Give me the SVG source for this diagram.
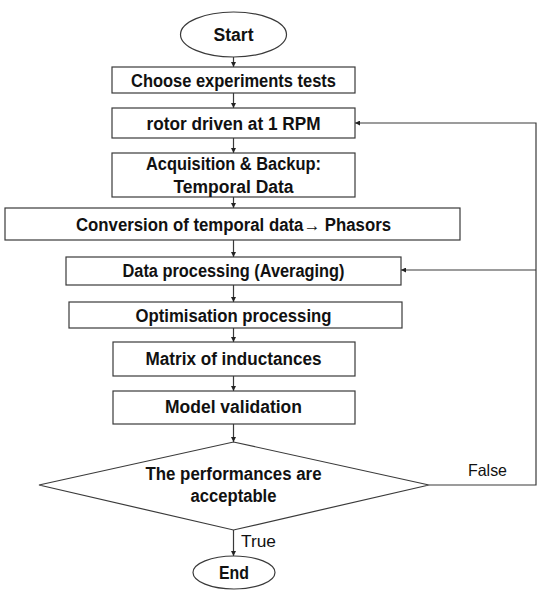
<svg xmlns="http://www.w3.org/2000/svg" width="550" height="596" viewBox="0 0 550 596">
<style>
.n{fill:#fff;stroke:#3a3a3a;stroke-width:1.2}
.t{font-family:"Liberation Sans",Arial,sans-serif;font-weight:bold;font-size:17.5px;fill:#111;text-anchor:middle}
.l{font-family:"Liberation Sans",Arial,sans-serif;font-size:16.5px;fill:#111}
.c{fill:none;stroke:#3a3a3a;stroke-width:1.2}
</style>
<defs>
<marker id="a" viewBox="0 0 10 10" refX="10" refY="5" markerWidth="5" markerHeight="5" orient="auto" markerUnits="userSpaceOnUse"><path d="M0,0 L10,5 L0,10 z" fill="#222"/></marker>
</defs>
<rect width="550" height="596" fill="#fff"/>
<g id="connectors">
<line class="c" x1="233.5" y1="57" x2="233.5" y2="67" marker-end="url(#a)"/>
<line class="c" x1="233.5" y1="93" x2="233.5" y2="108" marker-end="url(#a)"/>
<line class="c" x1="233.5" y1="138" x2="233.5" y2="153" marker-end="url(#a)"/>
<line class="c" x1="233.5" y1="197" x2="233.5" y2="208" marker-end="url(#a)"/>
<line class="c" x1="233.5" y1="240" x2="233.5" y2="257" marker-end="url(#a)"/>
<line class="c" x1="233.5" y1="285" x2="233.5" y2="302" marker-end="url(#a)"/>
<line class="c" x1="233.5" y1="328" x2="233.5" y2="342" marker-end="url(#a)"/>
<line class="c" x1="233.5" y1="376" x2="233.5" y2="391" marker-end="url(#a)"/>
<line class="c" x1="233.5" y1="424" x2="233.5" y2="442" marker-end="url(#a)"/>
<line class="c" x1="233.5" y1="530" x2="233.5" y2="556" marker-end="url(#a)"/>
<polyline class="c" points="429,485 536,485 536,123 355,123" marker-end="url(#a)"/>
<line class="c" x1="536" y1="270" x2="401" y2="270" marker-end="url(#a)"/>
<text class="l" x="468" y="476" textLength="39" lengthAdjust="spacingAndGlyphs">False</text>
<text class="l" x="241" y="547" textLength="35" lengthAdjust="spacingAndGlyphs">True</text>
</g>
<g id="start"><ellipse class="n" cx="233.5" cy="34.5" rx="53" ry="22.5"/><text class="t" x="233.5" y="41" textLength="40" lengthAdjust="spacingAndGlyphs">Start</text></g>
<g id="choose"><rect class="n" x="112" y="67" width="243" height="26"/><text class="t" x="233.5" y="87" textLength="205" lengthAdjust="spacingAndGlyphs">Choose experiments tests</text></g>
<g id="rotor"><rect class="n" x="112" y="108" width="243" height="30"/><text class="t" x="233.5" y="129.5" textLength="174" lengthAdjust="spacingAndGlyphs">rotor driven at 1 RPM</text></g>
<g id="acquisition"><rect class="n" x="112" y="153" width="243" height="44"/><text class="t" x="233.5" y="170" textLength="175" lengthAdjust="spacingAndGlyphs">Acquisition &amp; Backup:</text><text class="t" x="233.5" y="192.5" textLength="120" lengthAdjust="spacingAndGlyphs">Temporal Data</text></g>
<g id="conversion"><rect class="n" x="5" y="208" width="455" height="32"/><text class="t" x="233.5" y="231" textLength="315" lengthAdjust="spacingAndGlyphs">Conversion of temporal data→ Phasors</text></g>
<g id="dataprocessing"><rect class="n" x="66" y="257" width="335" height="28"/><text class="t" x="233.5" y="277" textLength="222" lengthAdjust="spacingAndGlyphs">Data processing (Averaging)</text></g>
<g id="optimisation"><rect class="n" x="69" y="302" width="333" height="26"/><text class="t" x="233.5" y="321.5" textLength="196" lengthAdjust="spacingAndGlyphs">Optimisation processing</text></g>
<g id="matrix"><rect class="n" x="113" y="342" width="242" height="34"/><text class="t" x="233.5" y="364.5" textLength="176" lengthAdjust="spacingAndGlyphs">Matrix of inductances</text></g>
<g id="validation"><rect class="n" x="113" y="391" width="242" height="33"/><text class="t" x="233.5" y="413" textLength="137" lengthAdjust="spacingAndGlyphs">Model validation</text></g>
<g id="decision"><polygon class="n" points="233.5,442 429,485 233.5,530 39,485"/><text class="t" x="233.5" y="480" textLength="176" lengthAdjust="spacingAndGlyphs">The performances are</text><text class="t" x="233.5" y="502" textLength="86" lengthAdjust="spacingAndGlyphs">acceptable</text></g>
<g id="end"><ellipse class="n" cx="234" cy="572.5" rx="41" ry="16.5"/><text class="t" x="234" y="578.5" textLength="30" lengthAdjust="spacingAndGlyphs">End</text></g>
</svg>
